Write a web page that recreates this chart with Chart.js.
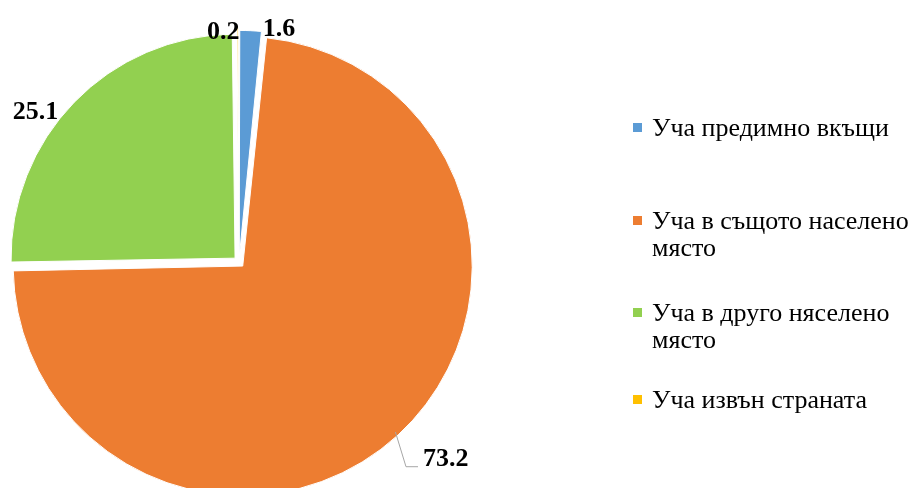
<!DOCTYPE html>
<html>
<head>
<meta charset="utf-8">
<script src="https://cdn.jsdelivr.net/npm/chart.js@4"></script>
<style>
  html, body { margin: 0; padding: 0; background: #fff; }
</style>
</head>
<body>
<canvas id="pieChart" width="915" height="488"></canvas>
<script>
  // Chart data
  const categories = ["Уча предимно вкъщи", "Уча в същото населено място", "Уча в друго няселено място", "Уча извън страната"];
  const legendLines = [["Уча предимно вкъщи"], ["Уча в същото населено", "място"], ["Уча в друго няселено", "място"], ["Уча извън страната"]];
  const values = [1.6, 73.2, 25.1, 0.2];
  const valueLabels = ["1.6", "73.2", "25.1", "0.2"];
  const colors = ["#5B9BD5", "#ED7D31", "#92D050", "#FFC000"];

  const serif = "'Liberation Serif', 'Times New Roman', serif";

  // Label placement tweaks (degrees clockwise from slice middle, gap beyond the rim)
  const labelNudge = [
    { angle: 6.8, gap: 14 },
    { angle: -4.1, gap: 60, leader: true },
    { angle: -7.4, gap: 30 },
    { angle: -3.5, gap: 9 },
  ];

  // Draws the value next to each slice
  const valueLabelPlugin = {
    id: "valueLabels",
    afterDatasetsDraw(chart) {
      const ctx = chart.ctx;
      const meta = chart.getDatasetMeta(0);
      ctx.save();
      ctx.font = "bold 26px " + serif;
      ctx.fillStyle = "#000";
      ctx.textAlign = "center";
      ctx.textBaseline = "alphabetic";
      meta.data.forEach((arc, i) => {
        const p = arc.getProps(["x", "y", "startAngle", "endAngle", "outerRadius"], true);
        const mid = (p.startAngle + p.endAngle) / 2;
        const a = mid + labelNudge[i].angle * Math.PI / 180;
        const r = p.outerRadius + labelNudge[i].gap;
        const lx = p.x + Math.cos(a) * r;
        const ly = p.y + Math.sin(a) * r + 9;
        ctx.fillText(valueLabels[i], lx, ly);
        if (labelNudge[i].leader) {
          const w = ctx.measureText(valueLabels[i]).width;
          const left = lx - w / 2;
          const push = arc.options.offset / 4;
          const sx = p.x + Math.cos(mid) * (p.outerRadius + push * 2 - 4);
          const sy = p.y + Math.sin(mid) * (p.outerRadius + push * 2 - 4);
          ctx.strokeStyle = "#A6A6A6";
          ctx.lineWidth = 1;
          ctx.beginPath();
          ctx.moveTo(sx, sy);
          ctx.lineTo(left - 17, ly + 1);
          ctx.lineTo(left - 5, ly + 1);
          ctx.stroke();
        }
      });
      ctx.restore();
    },
  };

  // Legend on the right, with wrapped entries
  const legendBaselines = [136, 229, 321, 408];
  const legendPlugin = {
    id: "sideLegend",
    afterDraw(chart) {
      const ctx = chart.ctx;
      ctx.save();
      ctx.font = "26px " + serif;
      ctx.fillStyle = "#000";
      ctx.textBaseline = "alphabetic";
      ctx.textAlign = "left";
      categories.forEach((cat, i) => {
        const base = legendBaselines[i];
        ctx.fillStyle = colors[i];
        ctx.fillRect(633, base - 13, 9, 9);
        ctx.fillStyle = "#000";
        legendLines[i].forEach((line, j) => {
          ctx.fillText(line, 652, base + j * 27);
        });
      });
      ctx.restore();
    },
  };

  new Chart(document.getElementById("pieChart").getContext("2d"), {
    type: "pie",
    data: {
      labels: categories,
      datasets: [
        {
          data: values,
          backgroundColor: colors,
          borderColor: "#fff",
          borderWidth: 1,
          offset: [16, 22, 22, 22],
          radius: 224,
        },
      ],
    },
    options: {
      responsive: false,
      animation: false,
      layout: {
        padding: { left: 0, right: 437, top: 36, bottom: 0 },
      },
      plugins: {
        legend: { display: false },
        tooltip: { enabled: false },
      },
    },
    plugins: [valueLabelPlugin, legendPlugin],
  });
</script>
</body>
</html>
